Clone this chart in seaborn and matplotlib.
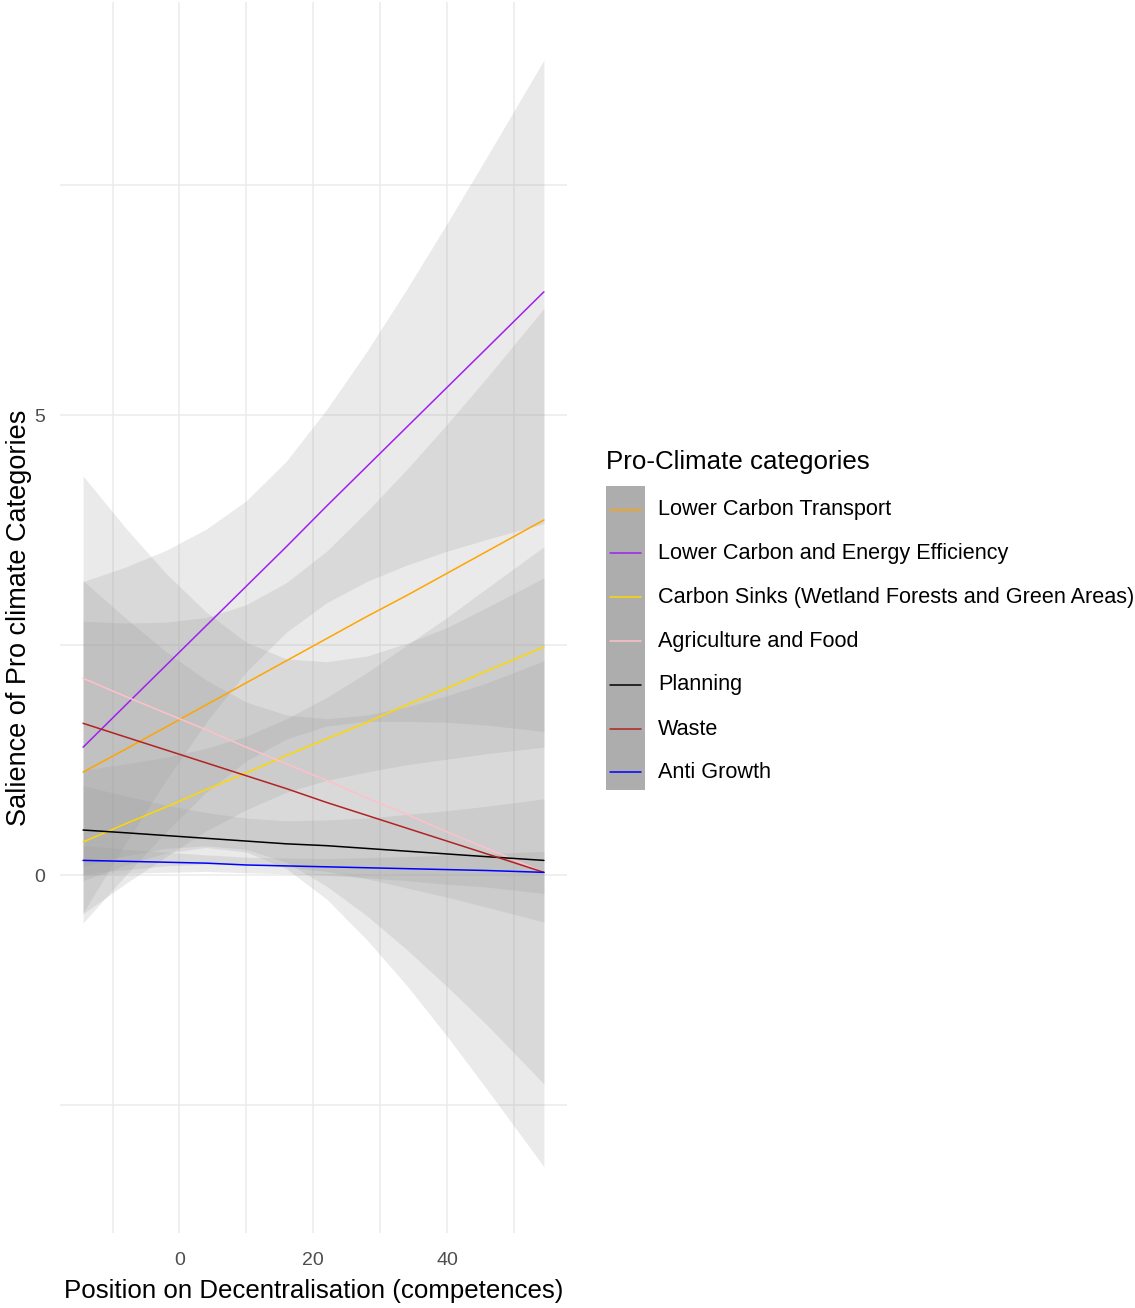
import numpy as np
import pandas as pd
import matplotlib
matplotlib.use("Agg")
import matplotlib.pyplot as plt
import seaborn as sns
from matplotlib.patches import Rectangle
from matplotlib.lines import Line2D

# Pro-climate categories and their line colours
categories = [
    "Lower Carbon Transport",
    "Lower Carbon and Energy Efficiency",
    "Carbon Sinks (Wetland Forests and Green Areas)",
    "Agriculture and Food",
    "Planning",
    "Waste",
    "Anti Growth",
]
line_colors = ["#FFA500", "#A020F0", "#FFD700", "#FFC0CB", "#000000", "#B22222", "#0000FF"]

# Positions on decentralisation where the fitted lines and bands are evaluated
x_pts = [-14.4, -8, -2, 4, 10, 16, 22, 28, 34, 40, 46, 54.5]

# Fitted salience (linear fit) per category
fit_transport = [1.12, 1.37, 1.61, 1.85, 2.09, 2.33, 2.57, 2.81, 3.04, 3.28, 3.52, 3.86]
fit_energy = [1.39, 1.85, 2.28, 2.71, 3.14, 3.57, 4.01, 4.44, 4.87, 5.30, 5.73, 6.34]
fit_sinks = [0.36, 0.56, 0.74, 0.93, 1.11, 1.30, 1.48, 1.66, 1.85, 2.03, 2.22, 2.48]
fit_agri = [2.14, 1.94, 1.76, 1.58, 1.39, 1.21, 1.03, 0.84, 0.66, 0.47, 0.29, 0.03]
fit_planning = [0.49, 0.46, 0.43, 0.40, 0.37, 0.34, 0.32, 0.29, 0.26, 0.23, 0.20, 0.16]
fit_waste = [1.65, 1.50, 1.36, 1.22, 1.08, 0.94, 0.79, 0.65, 0.51, 0.37, 0.23, 0.03]
fit_growth = [0.16, 0.15, 0.14, 0.13, 0.11, 0.10, 0.09, 0.08, 0.07, 0.06, 0.05, 0.03]

# Half-width of the 95% confidence band per category
ci_transport = [1.64, 1.37, 1.14, 0.95, 0.85, 0.85, 0.95, 1.14, 1.37, 1.62, 1.89, 2.30]
ci_energy = [1.80, 1.50, 1.25, 1.05, 0.93, 0.93, 1.05, 1.25, 1.50, 1.78, 2.08, 2.52]
ci_sinks = [0.78, 0.65, 0.54, 0.45, 0.40, 0.40, 0.45, 0.54, 0.65, 0.77, 0.90, 1.09]
ci_agri = [2.20, 1.83, 1.52, 1.28, 1.14, 1.14, 1.29, 1.54, 1.86, 2.22, 2.62, 3.20]
ci_planning = [0.48, 0.40, 0.33, 0.28, 0.25, 0.25, 0.28, 0.33, 0.40, 0.47, 0.55, 0.67]
ci_waste = [1.55, 1.29, 1.07, 0.90, 0.80, 0.80, 0.91, 1.09, 1.32, 1.58, 1.86, 2.30]
ci_growth = [0.16, 0.13, 0.11, 0.09, 0.085, 0.085, 0.09, 0.11, 0.13, 0.16, 0.18, 0.23]

fits = [fit_transport, fit_energy, fit_sinks, fit_agri, fit_planning, fit_waste, fit_growth]
cis = [ci_transport, ci_energy, ci_sinks, ci_agri, ci_planning, ci_waste, ci_growth]

rows = []
for cat, f, c in zip(categories, fits, cis):
    for xv, fv, cv in zip(x_pts, f, c):
        rows.append({"position": xv, "salience": fv, "lower": fv - cv,
                     "upper": fv + cv, "category": cat})
df = pd.DataFrame(rows)

sns.set_theme(style="white")
plt.rcParams["font.family"] = ["Liberation Sans", "DejaVu Sans"]

fig = plt.figure(figsize=(11.35, 13.08), dpi=100)
W, H = 1135, 1308
ax = fig.add_axes([60 / W, 1 - 1233 / H, (567 - 60) / W, (1233 - 2) / H])

# confidence ribbons
for cat in categories:
    sub = df[df["category"] == cat]
    ax.fill_between(sub["position"], sub["lower"], sub["upper"],
                    color="#999999", alpha=0.2, lw=0, zorder=2)

# fitted lines
palette = dict(zip(categories, line_colors))
sns.lineplot(data=df, x="position", y="salience", hue="category",
             hue_order=categories, palette=palette, errorbar=None,
             legend=False, sort=True, lw=1.1, ax=ax, zorder=3)

ax.set_xlim(-17.85, 57.95)
ax.set_ylim(-3.89, 9.49)
ax.set_xticks([0, 20, 40])
ax.set_xticks([-10, 10, 30, 50], minor=True)
ax.set_yticks([0, 5])
ax.set_yticks([-2.5, 2.5, 7.5], minor=True)
ax.grid(which="both", color="#EBEBEB", lw=1.1, zorder=0)
ax.set_axisbelow(True)
for s in ax.spines.values():
    s.set_visible(False)
ax.tick_params(which="both", length=0)
ax.tick_params(axis="x", labelsize=14, labelcolor="#4D4D4D", pad=14)
ax.tick_params(axis="y", labelsize=14, labelcolor="#4D4D4D", pad=11)
ax.set_xlabel("Position on Decentralisation (competences)", fontsize=18.6,
              color="black", labelpad=7)
ax.set_ylabel("Salience of Pro climate Categories", fontsize=19.5,
              color="black", labelpad=1)

# legend
fig.text(606 / W, 1 - 462 / H, "Pro-Climate categories", fontsize=18.6,
         ha="left", va="center", color="black")
fig.patches.append(Rectangle((606 / W, 1 - 790 / H), 39 / W, 304 / H,
                             transform=fig.transFigure, facecolor="#ADADAD",
                             edgecolor="none"))
ys = [510, 553, 597, 641, 685, 729, 772]
for cat, col, yy in zip(categories, line_colors, ys):
    fig.lines.append(Line2D([610 / W, 641 / W], [1 - yy / H, 1 - yy / H],
                            transform=fig.transFigure, color=col, lw=1.1))
    fig.text(658 / W, 1 - yy / H, cat, fontsize=15.6, ha="left",
             va="center", color="black")

fig.savefig("out.png", dpi=100)
